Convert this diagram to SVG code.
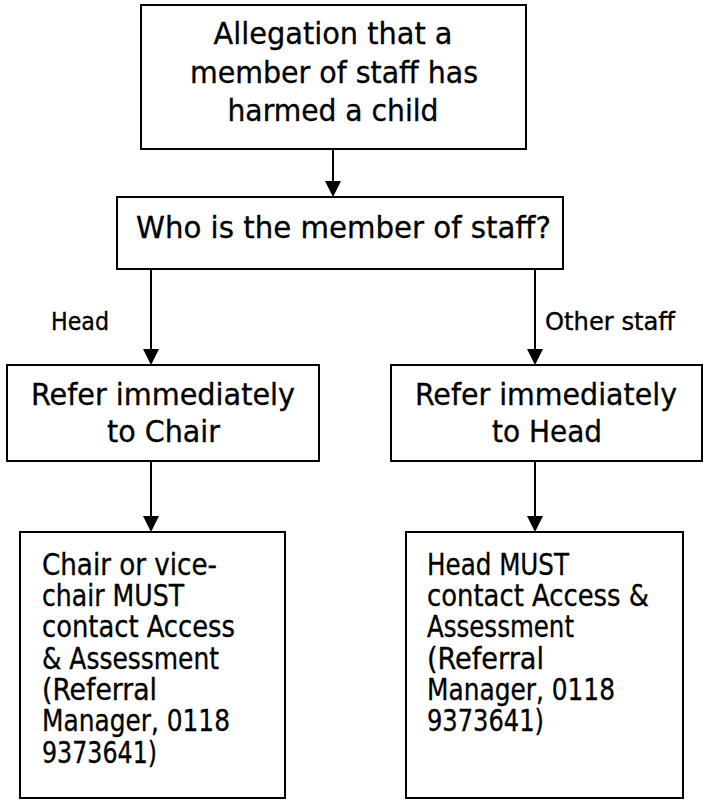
<svg xmlns="http://www.w3.org/2000/svg" width="703" height="800" viewBox="0 0 703 800">
<style>
  .box { fill: #ffffff; stroke: #000000; stroke-width: 2; }
  .conn { stroke: #000000; stroke-width: 2; fill: none; }
  text { font-family: "DejaVu Sans Condensed", "DejaVu Sans", sans-serif; font-stretch: condensed; fill: #000000; stroke: #000000; stroke-width: 0.3; }
  .t1 { font-size: 31px; }
  .t2 { font-size: 30px; }
  .t3 { font-size: 29.5px; }
  .lbl { font-size: 24px; }
  .c { text-anchor: middle; }
</style>
<defs>
  <marker id="arrow" markerUnits="userSpaceOnUse" markerWidth="16" markerHeight="16" refX="8" refY="8" orient="auto">
    <path d="M0,0 L16,8 L0,16 Z" fill="#000000"/>
  </marker>
</defs>
<rect width="703" height="800" fill="#ffffff"/>

<g id="connectors">
  <line class="conn" x1="333" y1="149" x2="333" y2="189" marker-end="url(#arrow)"/>
  <line class="conn" x1="151" y1="269" x2="151" y2="357" marker-end="url(#arrow)"/>
  <line class="conn" x1="535" y1="269" x2="535" y2="357" marker-end="url(#arrow)"/>
  <line class="conn" x1="151" y1="461" x2="151" y2="524" marker-end="url(#arrow)"/>
  <line class="conn" x1="535" y1="461" x2="535" y2="524" marker-end="url(#arrow)"/>
  <text class="lbl" x="51" y="330" textLength="58" lengthAdjust="spacingAndGlyphs">Head</text>
  <text class="lbl" x="545" y="330" textLength="130" lengthAdjust="spacingAndGlyphs">Other staff</text>
</g>

<g id="node-allegation">
  <rect class="box" x="141" y="5" width="385" height="144"/>
  <text class="t1 c" x="333" y="44" textLength="239" lengthAdjust="spacingAndGlyphs">Allegation that a</text>
  <text class="t1 c" x="334" y="83" textLength="288" lengthAdjust="spacingAndGlyphs">member of staff has</text>
  <text class="t1 c" x="333" y="121" textLength="211" lengthAdjust="spacingAndGlyphs">harmed a child</text>
</g>

<g id="node-who">
  <rect class="box" x="117" y="197" width="446" height="72"/>
  <text class="t1" x="136" y="238" textLength="415" lengthAdjust="spacingAndGlyphs">Who is the member of staff?</text>
</g>

<g id="node-refer-chair">
  <rect class="box" x="7" y="365" width="312" height="96"/>
  <text class="t2 c" x="163" y="405" textLength="264" lengthAdjust="spacingAndGlyphs">Refer immediately</text>
  <text class="t2 c" x="163.5" y="442" textLength="113" lengthAdjust="spacingAndGlyphs">to Chair</text>
</g>

<g id="node-refer-head">
  <rect class="box" x="391" y="365" width="311" height="96"/>
  <text class="t2 c" x="546" y="405" textLength="262" lengthAdjust="spacingAndGlyphs">Refer immediately</text>
  <text class="t2 c" x="547" y="442" textLength="110" lengthAdjust="spacingAndGlyphs">to Head</text>
</g>

<g id="node-chair-contact">
  <rect class="box" x="20" y="532" width="265" height="266"/>
  <text class="t3" x="42" y="575" textLength="175" lengthAdjust="spacingAndGlyphs">Chair or vice-</text>
  <text class="t3" x="42" y="606" textLength="142" lengthAdjust="spacingAndGlyphs">chair MUST</text>
  <text class="t3" x="42" y="637" textLength="193" lengthAdjust="spacingAndGlyphs">contact Access</text>
  <text class="t3" x="42" y="669" textLength="177" lengthAdjust="spacingAndGlyphs">&amp; Assessment</text>
  <text class="t3" x="42" y="700" textLength="115" lengthAdjust="spacingAndGlyphs">(Referral</text>
  <text class="t3" x="42" y="731" textLength="188" lengthAdjust="spacingAndGlyphs">Manager, 0118</text>
  <text class="t3" x="42" y="763" textLength="115" lengthAdjust="spacingAndGlyphs">9373641)</text>
</g>

<g id="node-head-contact">
  <rect class="box" x="406" y="532" width="277" height="266"/>
  <text class="t3" x="427" y="575" textLength="142" lengthAdjust="spacingAndGlyphs">Head MUST</text>
  <text class="t3" x="427" y="606" textLength="222" lengthAdjust="spacingAndGlyphs">contact Access &amp;</text>
  <text class="t3" x="427" y="637" textLength="147" lengthAdjust="spacingAndGlyphs">Assessment</text>
  <text class="t3" x="427" y="669" textLength="117" lengthAdjust="spacingAndGlyphs">(Referral</text>
  <text class="t3" x="427" y="700" textLength="188" lengthAdjust="spacingAndGlyphs">Manager, 0118</text>
  <text class="t3" x="427" y="731" textLength="117" lengthAdjust="spacingAndGlyphs">9373641)</text>
</g>
</svg>
